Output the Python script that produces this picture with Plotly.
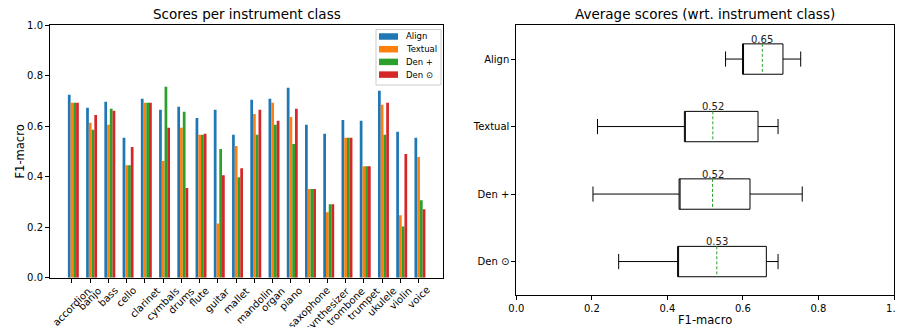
import numpy as np
import plotly.graph_objects as go

# ---------------- data ----------------
categories = ["accordion", "banjo", "bass", "cello", "clarinet", "cymbals", "drums", "flute",
              "guitar", "mallet", "mandolin", "organ", "piano", "saxophone", "synthesizer",
              "trombone", "trumpet", "ukulele", "violin", "voice"]
align = [0.725, 0.673, 0.697, 0.554, 0.709, 0.665, 0.677, 0.633, 0.665, 0.566,
         0.705, 0.709, 0.753, 0.606, 0.570, 0.625, 0.622, 0.741, 0.578, 0.554]
textual = [0.693, 0.614, 0.606, 0.446, 0.693, 0.462, 0.594, 0.566, 0.215, 0.522,
           0.649, 0.693, 0.637, 0.351, 0.259, 0.554, 0.442, 0.685, 0.247, 0.478]
den_plus = [0.693, 0.586, 0.669, 0.446, 0.693, 0.757, 0.657, 0.566, 0.510, 0.398,
            0.566, 0.606, 0.530, 0.351, 0.291, 0.554, 0.442, 0.566, 0.203, 0.307]
den_odot = [0.693, 0.645, 0.661, 0.518, 0.693, 0.594, 0.355, 0.570, 0.406, 0.434,
            0.665, 0.622, 0.669, 0.351, 0.291, 0.554, 0.442, 0.693, 0.490, 0.271]
series_names = ["Align", "Textual", "Den +", "Den \u2299"]
yticks_left = [0.0, 0.2, 0.4, 0.6, 0.8, 1.0]
xticks_right = [0.0, 0.2, 0.4, 0.6, 0.8, 1.0]

# ---------------- styling ----------------
PAGE_W, PAGE_H = 903, 327
OFF = 8  # default page body margin
W, H = PAGE_W - OFF, PAGE_H - OFF
FONT = "DejaVu Sans"
colors = ["#1f77b4", "#ff7f0e", "#2ca02c", "#d62728"]
series = [align, textual, den_plus, den_odot]
bar_w = 0.15


def fx(p):
    return (p - OFF) / W


def fy(p):
    return 1 - (p - OFF) / H


fig = go.Figure()

xpos = np.arange(len(categories))
for k, (name, vals, col) in enumerate(zip(series_names, series, colors)):
    fig.add_trace(go.Bar(x=xpos + (k - 1) * bar_w, y=vals, width=bar_w, name=name,
                         marker=dict(color=col, line=dict(width=0)),
                         showlegend=False, xaxis="x", yaxis="y"))

# box statistics (matplotlib-style: linear percentiles, 1.5 IQR whiskers)
positions = [1, 2, 3, 4]
q1s, q3s, los, his, means = [], [], [], [], []
for vals in series:
    v = np.array(vals)
    q1, q3 = np.percentile(v, [25, 75])
    iqr = q3 - q1
    lo = v[v >= q1 - 1.5 * iqr].min()
    hi = v[v <= q3 + 1.5 * iqr].max()
    q1s.append(q1); q3s.append(q3); los.append(lo); his.append(hi); means.append(v.mean())

box_w = 0.45
# median line hidden (placed on the box edge) as in the reference; mean shown dashed green
fig.add_trace(go.Box(y=positions, q1=q1s, median=q1s, q3=q3s, lowerfence=los, upperfence=his,
                     orientation="h", width=box_w, whiskerwidth=0.5,
                     line=dict(color="black", width=1), fillcolor="rgba(0,0,0,0)",
                     showlegend=False, hoverinfo="skip", xaxis="x2", yaxis="y2"))

mx, my = [], []
for p, m in zip(positions, means):
    mx += [m, m, None]
    my += [p - box_w / 2, p + box_w / 2, None]
fig.add_trace(go.Scatter(x=mx, y=my, mode="lines", showlegend=False, hoverinfo="skip",
                         line=dict(color="#2ca02c", width=1, dash="3px,2px"),
                         xaxis="x2", yaxis="y2"))

annotations = []
for p, m in zip(positions, means):
    annotations.append(dict(x=m, y=p - box_w / 2, xref="x2", yref="y2", text=f"{m:.2f}",
                            showarrow=False, yanchor="bottom", yshift=-3,
                            font=dict(size=10, color="#222", family=FONT)))

# category tick labels: rotated 45 deg, centred under each tick (matplotlib ha='center')
for xi, cat in zip(xpos, categories):
    annotations.append(dict(x=xi, y=fy(283.5), xref="x", yref="paper", text=cat,
                            textangle=-45, showarrow=False, xanchor="center", yanchor="top",
                            borderpad=0, font=dict(size=10, color="black", family=FONT)))

annotations += [
    dict(x=fx((50 + 443.3) / 2), y=fy(14), xref="paper", yref="paper",
         text="Scores per instrument class", showarrow=False,
         font=dict(size=13.5, color="black", family=FONT), xanchor="center", yanchor="middle"),
    dict(x=fx((516.3 + 894) / 2), y=fy(14), xref="paper", yref="paper",
         text="Average scores (wrt. instrument class)", showarrow=False,
         font=dict(size=13.5, color="black", family=FONT), xanchor="center", yanchor="middle"),
    dict(x=fx(19), y=fy(151.5), xref="paper", yref="paper", text="F1-macro", textangle=-90,
         showarrow=False, font=dict(size=11.5, color="black", family=FONT),
         xanchor="center", yanchor="middle"),
    dict(x=fx((516.3 + 894) / 2), y=fy(320), xref="paper", yref="paper", text="F1-macro",
         showarrow=False, font=dict(size=11.5, color="black", family=FONT),
         xanchor="center", yanchor="middle"),
]

# compact legend box (matplotlib-like) in the upper right of the bar panel
shapes = []
LEG_L, LEG_T, LEG_R, LEG_B = 376, 29.5, 441, 85
ROW0, ROW_STEP = 36.5, 12.7
SW_L, SW_R, SW_H = 379, 398, 6.5
shapes.append(dict(type="rect", xref="paper", yref="paper",
                   x0=fx(LEG_L), x1=fx(LEG_R), y0=fy(LEG_B), y1=fy(LEG_T),
                   line=dict(color="#cccccc", width=1), fillcolor="rgba(255,255,255,0.85)",
                   layer="above"))
for k, (name, col) in enumerate(zip(series_names, colors)):
    cy = ROW0 + k * ROW_STEP
    shapes.append(dict(type="rect", xref="paper", yref="paper",
                       x0=fx(SW_L), x1=fx(SW_R), y0=fy(cy + SW_H / 2), y1=fy(cy - SW_H / 2),
                       line=dict(width=0), fillcolor=col, layer="above"))
    annotations.append(dict(x=fx(404), y=fy(cy), xref="paper", yref="paper", text=name,
                            showarrow=False, xanchor="left", yanchor="middle",
                            font=dict(size=8.5, color="black", family=FONT)))

axis_common = dict(showline=True, mirror=True, linecolor="black", linewidth=1,
                   ticks="outside", ticklen=4, tickcolor="black", tickwidth=1,
                   showgrid=False, zeroline=False, automargin=False,
                   tickfont=dict(size=10, color="black", family=FONT))

fig.update_layout(
    width=W, height=H, margin=dict(l=0, r=0, t=0, b=0),
    plot_bgcolor="white", paper_bgcolor="white",
    font=dict(family=FONT, color="black"),
    barmode="overlay", showlegend=False,
    xaxis=dict(domain=[fx(50), fx(443.3)], range=[-1.205, 20.355], tickvals=list(xpos),
               showticklabels=False, anchor="y", **axis_common),
    yaxis=dict(domain=[fy(277.7), fy(25.3)], range=[0, 1], tickvals=yticks_left,
               tickformat=".1f", anchor="x", **axis_common),
    xaxis2=dict(domain=[fx(516.3), fx(894)], range=[0, 1], tickvals=xticks_right,
                tickformat=".1f", anchor="y2", **axis_common),
    yaxis2=dict(domain=[fy(295.3), fy(25.3)], range=[4.5, 0.5], tickvals=positions,
                ticktext=series_names, anchor="x2", **axis_common),
    annotations=annotations,
    shapes=shapes,
)

fig.write_html("out.html")
